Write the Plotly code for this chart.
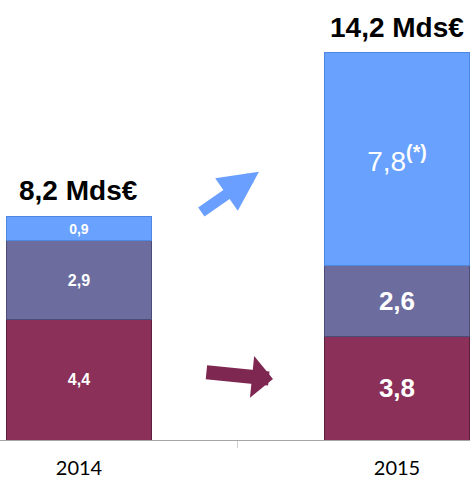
import plotly.graph_objects as go

years = ["2014", "2015"]
seg_bottom = [4.4, 3.8]
seg_middle = [2.9, 2.6]
seg_top = [0.9, 7.8]
totals = [8.2, 14.2]
bottom_labels = ["<b>4,4</b>", "<b>3,8</b>"]
middle_labels = ["<b>2,9</b>", "<b>2,6</b>"]
top_labels = ["<b>0,9</b>", "7,8<b><sup>(*)</sup></b>"]
total_labels = ["8,2 Mds€", "14,2 Mds€"]

c_bottom = "#8A3059"
c_middle = "#6C6C9F"
c_top = "#69A1FF"

fig = go.Figure()
BW = 0.453
for vals, labs, col, line_col, sizes in [
    (seg_bottom, bottom_labels, c_bottom, "#5E1F3C", [16, 26]),
    (seg_middle, middle_labels, c_middle, "#4C4C78", [16, 26]),
    (seg_top, top_labels, c_top, "#4F86E0", [14, 28]),
]:
    fig.add_trace(go.Bar(
        x=years, y=vals, text=labs, texttemplate="%{text}",
        textposition="inside", insidetextanchor="middle",
        textfont=dict(color="white", size=sizes, family="Liberation Sans, Arial"),
        marker=dict(color=col, line=dict(color=line_col, width=1)),
        width=BW, constraintext="none", hoverinfo="skip",
    ))

for i, (tot, lab) in enumerate(zip(totals, total_labels)):
    fig.add_annotation(x=i, y=tot, text="<b>" + lab + "</b>", showarrow=False,
                       xref="x", yref="y", yanchor="bottom", yshift=8,
                       font=dict(size=28, color="black", family="Liberation Sans, Arial"))

# trend arrows
fig.add_annotation(x=0.566, y=9.83, ax=0.380, ay=8.32, xref="x", yref="y",
                   axref="x", ayref="y", text="", showarrow=True,
                   arrowhead=2, arrowsize=0.72, arrowwidth=11, arrowcolor="#6A9FFF")
fig.add_annotation(x=0.610, y=2.24, ax=0.396, ay=2.49, xref="x", yref="y",
                   axref="x", ayref="y", text="", showarrow=True,
                   arrowhead=1, arrowsize=0.5, arrowwidth=14, arrowcolor="#7E2751")

fig.update_layout(
    barmode="stack", width=470, height=480,
    margin=dict(l=0, r=0, t=0, b=40),
    paper_bgcolor="white", plot_bgcolor="white",
    showlegend=False,
    xaxis=dict(type="category", range=[-0.2484, 1.2296], showline=True,
               linecolor="#A6A6A6", linewidth=1, ticks="outside",
               tickson="boundaries", ticklen=7, tickcolor="#D0D0D0",
               ticklabelstandoff=10, automargin=False,
               tickfont=dict(size=20, color="black", family="Lato"),
               showgrid=False, zeroline=False),
    yaxis=dict(range=[0, 16.13], visible=False, automargin=False),
)

fig.write_html("out.html", config={"displayModeBar": False},
               post_script="document.body.style.margin='0';document.body.style.overflow='hidden';")
